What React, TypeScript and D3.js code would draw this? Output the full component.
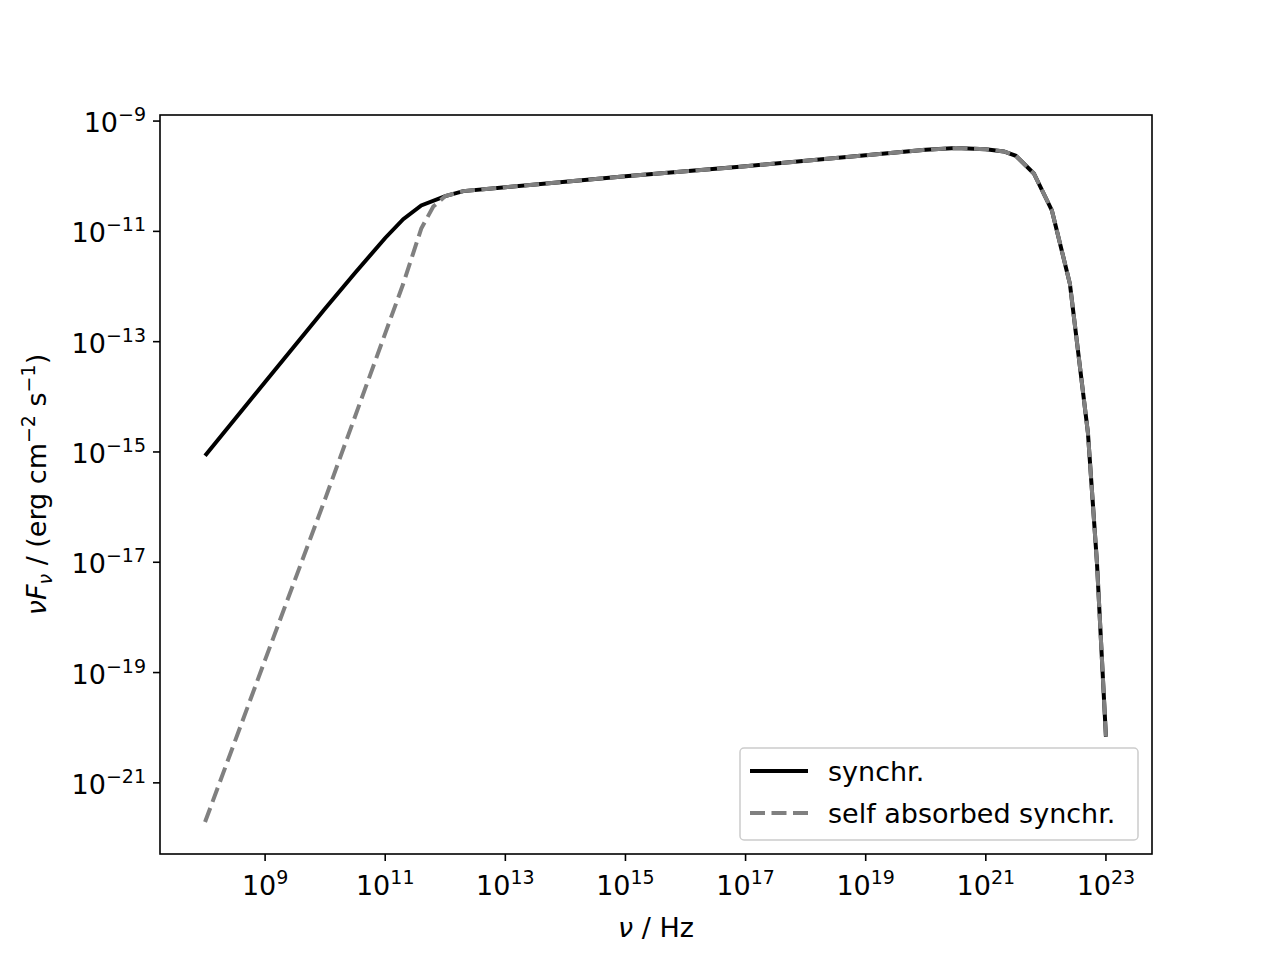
import * as d3 from "d3";

// log10 values
const synchrLogNu = [8, 9, 10, 10.5, 11, 11.3, 11.6, 12, 12.3, 13, 15, 17, 19, 20, 20.5, 21, 21.3, 21.5, 21.8, 22.1, 22.4, 22.7, 22.85, 23];
const synchrLogF = [-15.07, -13.73, -12.4, -11.75, -11.12, -10.78, -10.53, -10.36, -10.27, -10.2, -10.0, -9.82, -9.62, -9.52, -9.49, -9.51, -9.55, -9.63, -9.95, -10.62, -11.95, -14.65, -17.0, -20.16];
const absLogNu = [8, 9, 10, 11, 11.3, 11.6, 11.8, 12, 12.3, 13, 15, 17, 19, 20, 20.5, 21, 21.3, 21.5, 21.8, 22.1, 22.4, 22.7, 22.85, 23];
const absLogF = [-21.71, -18.77, -15.85, -12.85, -11.95, -10.95, -10.55, -10.36, -10.27, -10.2, -10.0, -9.82, -9.62, -9.52, -9.49, -9.51, -9.55, -9.63, -9.95, -10.62, -11.95, -14.65, -17.0, -20.16];
const xTicks = [9, 11, 13, 15, 17, 19, 21, 23];
const yTicks = [-9, -11, -13, -15, -17, -19, -21];

const L = 160, R = 1152, T = 115, B = 854;
const font = "DejaVu Sans, sans-serif";
const fs = 27;
const sup = 19;

export default function App() {
  const x = d3.scaleLinear().domain([7.25, 23.767]).range([L, R]);
  const y = d3.scaleLinear().domain([-8.89, -22.29]).range([T, B]);
  const line = (xs: number[], ys: number[]) =>
    d3.line<number>().x((d) => x(d)).y((_, i) => y(ys[i]))(xs) || "";
  return (
    <svg width={1280} height={960} style={{ position: "absolute", left: 0, top: 0 }} fontFamily={font}>
      <rect width={1280} height={960} fill="#fff" />
      <path d={line(synchrLogNu, synchrLogF)} fill="none" stroke="#000" strokeWidth={4} />
      <path d={line(absLogNu, absLogF)} fill="none" stroke="#808080" strokeWidth={4} strokeDasharray="15 6.5" />
      <rect x={L} y={T} width={R - L} height={B - T} fill="none" stroke="#000" strokeWidth={1.6} />
      {xTicks.map((t) => (
        <g key={t}>
          <line x1={x(t)} x2={x(t)} y1={B} y2={B + 7} stroke="#000" strokeWidth={1.6} />
          <text x={x(t)} y={B + 41} textAnchor="middle" fontSize={fs}>
            10<tspan fontSize={sup} dy={-11}>{t}</tspan>
          </text>
        </g>
      ))}
      {yTicks.map((t) => (
        <g key={t}>
          <line x1={L - 7} x2={L} y1={y(t)} y2={y(t)} stroke="#000" strokeWidth={1.6} />
          <text x={L - 14} y={y(t) + 11} textAnchor="end" fontSize={fs}>
            10<tspan fontSize={sup} dy={-11}>{"\u2212" + Math.abs(t)}</tspan>
          </text>
        </g>
      ))}
      <text x={(L + R) / 2} y={937} textAnchor="middle" fontSize={fs}>
        <tspan fontStyle="italic">ν</tspan> / Hz
      </text>
      <text transform={`translate(46,${(T + B) / 2}) rotate(-90)`} textAnchor="middle" fontSize={fs}>
        <tspan fontStyle="italic">νF</tspan><tspan fontStyle="italic" fontSize={sup} dy={6}>ν</tspan>
        <tspan dy={-6}> / (erg cm</tspan><tspan fontSize={sup} dy={-11}>−2</tspan>
        <tspan dy={11}> s</tspan><tspan fontSize={sup} dy={-11}>−1</tspan><tspan dy={11}>)</tspan>
      </text>
      <rect x={740} y={748} width={398} height={92} rx={4} fill="#fff" fillOpacity={0.8} stroke="#ccc" strokeWidth={1.5} />
      <line x1={750} x2={808} y1={771} y2={771} stroke="#000" strokeWidth={4} />
      <line x1={750} x2={808} y1={813} y2={813} stroke="#808080" strokeWidth={4} strokeDasharray="15 6.5" />
      <text x={828} y={781} fontSize={fs}>synchr.</text>
      <text x={828} y={823} fontSize={fs}>self absorbed synchr.</text>
    </svg>
  );
}
